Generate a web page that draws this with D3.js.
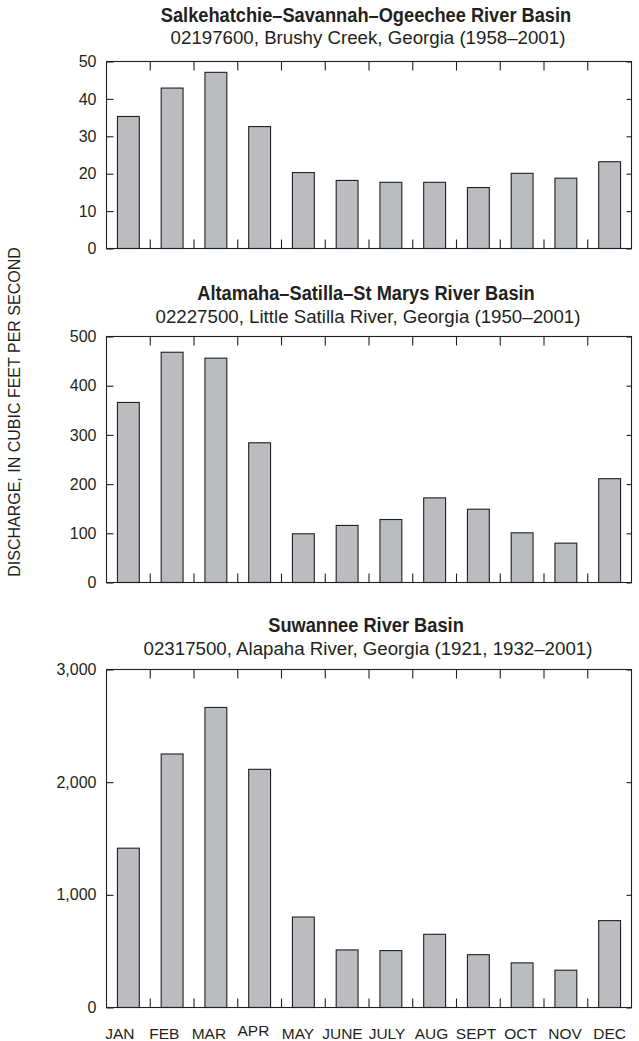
<!DOCTYPE html>
<html>
<head>
<meta charset="utf-8">
<title>Monthly mean discharge</title>
<script src="https://d3js.org/d3.v7.min.js"></script>
<style>
  body { margin: 0; background: #fff; }
  text { font-family: "Liberation Sans", Arial, sans-serif; fill: #231f20; }
  .title { font-weight: bold; }
</style>
</head>
<body>
<div id="chart"></div>
<script>
// month labels shared by all three panels
var months = ["JAN", "FEB", "MAR", "APR", "MAY", "JUNE", "JULY", "AUG", "SEPT", "OCT", "NOV", "DEC"];

// panel 1: Brushy Creek
var brushyValues = [35.3, 42.9, 47.1, 32.6, 20.3, 18.2, 17.7, 17.7, 16.3, 20.1, 18.8, 23.2];
var brushyTicks = [0, 10, 20, 30, 40, 50];

// panel 2: Little Satilla River
var satillaValues = [366, 468, 456, 284, 99, 116, 128, 172, 149, 101, 80, 211];
var satillaTicks = [0, 100, 200, 300, 400, 500];

// panel 3: Alapaha River
var alapahaValues = [1414, 2250, 2663, 2114, 803, 511, 505, 650, 469, 396, 331, 771];
var alapahaTicks = [0, 1000, 2000, 3000];

var titles = ["Salkehatchie\u2013Savannah\u2013Ogeechee River Basin",
              "Altamaha\u2013Satilla\u2013St Marys River Basin",
              "Suwannee River Basin"];
var subtitles = ["02197600, Brushy Creek, Georgia (1958\u20132001)",
                 "02227500, Little Satilla River, Georgia (1950\u20132001)",
                 "02317500, Alapaha River, Georgia (1921, 1932\u20132001)"];

var W = 639, H = 1041;
var left = 106.5, right = 631.5;

// vertical placement of each panel's frame and headings
var panels = [
  {values: brushyValues, ticks: brushyTicks, top: 61.5, bottom: 248.5, titleY: 22, subY: 44},
  {values: satillaValues, ticks: satillaTicks, top: 336.5, bottom: 582.5, titleY: 300, subY: 323},
  {values: alapahaValues, ticks: alapahaTicks, top: 669.5, bottom: 1007.5, titleY: 632, subY: 655}
];

var svg = d3.select("#chart").append("svg")
    .attr("width", W)
    .attr("height", H);

var x = d3.scaleBand()
  .domain(months)
  .range([left, right])
  .paddingInner(0.5)
  .paddingOuter(0.25);

var step = x.step();
var bw = x.bandwidth();
var fmt = d3.format(",");
var cx = (left + right) / 2;

// month names are spaced a little wider than the bars, lined up at DEC
var xLabel = d3.scalePoint()
  .domain(months)
  .range([x("JAN") + bw / 2 - 8.5, x("DEC") + bw / 2]);

panels.forEach(function(p, i) {
  var y = d3.scaleLinear()
    .domain([0, d3.max(p.ticks)])
    .range([p.bottom, p.top]);

  var g = svg.append("g");

  // titles (bold squeezed horizontally to look condensed)
  g.append("text")
    .attr("class", "title")
    .attr("transform", "translate(" + (cx - 3) + "," + p.titleY + ") scale(0.89,1)")
    .attr("text-anchor", "middle")
    .style("font-size", "20.5px")
    .text(titles[i]);
  g.append("text")
    .attr("x", cx - 1)
    .attr("y", p.subY)
    .attr("text-anchor", "middle")
    .style("font-size", "18.7px")
    .text(subtitles[i]);

  // bars
  g.selectAll("rect.bar")
    .data(p.values)
    .enter()
    .append("rect")
      .attr("class", "bar")
      .attr("x", function(d, j) { return x(months[j]); })
      .attr("y", function(d) { return y(d); })
      .attr("width", bw)
      .attr("height", function(d) { return p.bottom - y(d); })
      .attr("fill", "#bbbcc0")
      .attr("stroke", "#231f20")
      .attr("stroke-width", 1.1);

  // left axis: labels plus short inward ticks
  var yAxisL = d3.axisLeft(y).tickValues(p.ticks).tickSize(-7).tickPadding(10).tickFormat(fmt);
  var gl = g.append("g").attr("transform", "translate(" + left + ",0)").call(yAxisL);
  // right axis: inward ticks only
  var yAxisR = d3.axisRight(y).tickValues(p.ticks).tickSize(-5).tickFormat("");
  var gr = g.append("g").attr("transform", "translate(" + right + ",0)").call(yAxisR);

  // month boundary ticks along top and bottom
  var bounds = months.slice(1).map(function(m) { return x(m) - step * 0.25; });
  g.selectAll("line.tb")
    .data(bounds)
    .enter()
    .append("line")
      .attr("x1", function(d) { return d; })
      .attr("x2", function(d) { return d; })
      .attr("y1", p.top)
      .attr("y2", p.top + 9);
  g.selectAll("line.bb")
    .data(bounds)
    .enter()
    .append("line")
      .attr("x1", function(d) { return d; })
      .attr("x2", function(d) { return d; })
      .attr("y1", p.bottom)
      .attr("y2", p.bottom - 9);

  [gl, gr].forEach(function(a) {
    a.select(".domain").remove();
    a.selectAll(".tick text")
      .style("font-family", "'Liberation Sans', Arial, sans-serif")
      .style("font-size", "16px")
      .attr("fill", "#231f20");
  });
  g.selectAll("line").attr("stroke", "#231f20").attr("stroke-width", 1.1);

  // frame
  g.append("rect")
    .attr("x", left)
    .attr("y", p.top)
    .attr("width", right - left)
    .attr("height", p.bottom - p.top)
    .attr("fill", "none")
    .attr("stroke", "#231f20")
    .attr("stroke-width", 1.1);

  // month labels under the last panel
  if (i === panels.length - 1) {
    g.selectAll("text.month")
      .data(months)
      .enter()
      .append("text")
        .attr("class", "month")
        .attr("x", function(m) { return xLabel(m); })
        .attr("y", function(m) { return m === "APR" ? p.bottom + 28.5 : p.bottom + 31; })
        .attr("text-anchor", "middle")
        .style("font-size", "15.5px")
        .text(function(m) { return m; });
  }
});

// shared y-axis title
svg.append("text")
  .attr("transform", "translate(20,412) rotate(-90)")
  .attr("text-anchor", "middle")
  .style("font-size", "16px")
  .text("DISCHARGE, IN CUBIC FEET PER SECOND");
</script>
</body>
</html>
